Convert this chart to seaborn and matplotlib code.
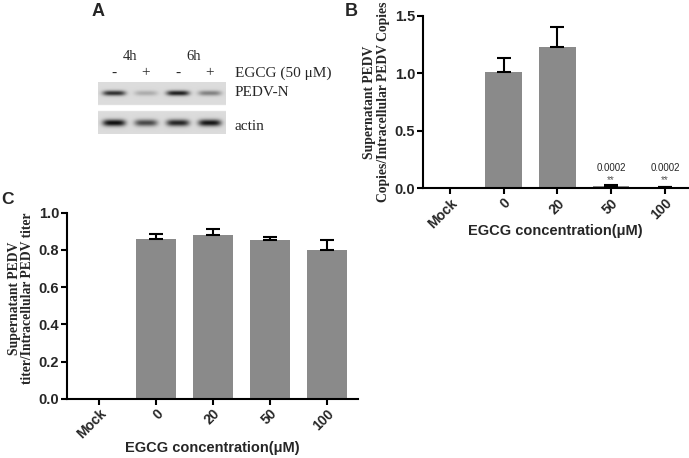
#%% Imports

import numpy as np
import matplotlib.pyplot as plt
import seaborn as sns

#%% Data

# panel A: western blot, relative band darkness per lane
blot_times = ['4h', '6h']
blot_egcg = ['-', '+', '-', '+']
pedv_n_band = [0.80, 0.22, 0.88, 0.42]
actin_band = [0.95, 0.68, 0.85, 0.92]

# panel B: supernatant / intracellular copies
conc = ['Mock', '0', '20', '50', '100']
copies_mean = [0.0, 1.01, 1.225, 0.02, 0.01]
copies_err = [0.0, 0.125, 0.175, 0.006, 0.004]
copies_p = ['', '', '', '0.0002', '0.0002']

# panel C: supernatant / intracellular titer
titer_mean = [0.0, 0.858, 0.879, 0.852, 0.80]
titer_err = [0.0, 0.027, 0.03, 0.016, 0.052]

#%% Style

sns.set_style('ticks')
plt.rcParams['font.family'] = ['Liberation Sans', 'DejaVu Sans']

bar_gray = '#8a8a8a'
serif = ['Liberation Serif', 'DejaVu Serif']

fig = plt.figure(figsize=(6.89, 4.58), dpi=100)

#%% Bar panel helper

def BarPanel(ax, means, errs, ylim, yticks, ylabel, xlim, width, label_xy,
             xpad):

    sns.barplot(x=conc, y=means, color=bar_gray, width=width,
                saturation=1, linewidth=0, ax=ax)
    pos = np.arange(len(conc))
    e = np.array(errs)
    m = e > 0
    ax.errorbar(pos[m], np.array(means)[m], yerr=[np.zeros(m.sum()), e[m]],
                fmt='none', ecolor='black', elinewidth=1.5, capsize=5,
                capthick=1.5, zorder=3)

    ax.set_ylim(*ylim)
    ax.set_xlim(*xlim)
    ax.set_yticks(yticks)
    ax.set_yticklabels(['{:.1f}'.format(t) for t in yticks],
                       fontweight='bold', fontsize=10.5)
    ax.set_xticks(pos)
    ax.set_xticklabels(conc, rotation=45, ha='right', rotation_mode='anchor',
                       fontweight='bold', fontsize=10)
    ax.tick_params(axis='both', length=4, width=1.5, color='black', pad=1.5)
    for s in ['top', 'right']:
        ax.spines[s].set_visible(False)
    for s in ['left', 'bottom']:
        ax.spines[s].set_linewidth(1.5)
        ax.spines[s].set_color('black')
    ax.set_xlabel('EGCG concentration(\u03bcM)', fontweight='bold',
                  fontsize=10.5, labelpad=xpad)
    ax.set_ylabel(ylabel, family=serif, fontweight='bold', fontsize=9.8,
                  linespacing=1.05)
    ax.yaxis.set_label_coords(*label_xy)

    return

#%% Panel B

axB = fig.add_axes([423 / 689, 0.589, 265 / 689, 0.377])
BarPanel(axB, copies_mean, copies_err, (0, 1.5), [0.0, 0.5, 1.0, 1.5],
         'Supernatant PEDV\nCopies/Intracellular PEDV Copies',
         (-0.50, 4.43), 0.68, (-0.125, 0.5), -5)
for i, p in enumerate(copies_p):
    if p:
        axB.text(i, 0.18, p, ha='center', va='center', fontsize=7)
        axB.text(i, 0.07, '**', ha='center', va='center', fontsize=7,
                 color='#555555')

#%% Panel C

axC = fig.add_axes([67 / 689, 0.129, 291 / 689, 0.407])
BarPanel(axC, titer_mean, titer_err, (0, 1.0), [0.0, 0.2, 0.4, 0.6, 0.8, 1.0],
         'Supernatant PEDV\ntiter/Intracellular PEDV titer',
         (-0.56, 4.54), 0.70, (-0.112, 0.54), 0)

#%% Panel A: blot

axA = fig.add_axes([98 / 689, 1 - 134 / 458, 128 / 689, 52 / 458])
nx, ny = 256, 104
xs = np.linspace(-0.5, 3.5, nx)
ys = np.linspace(0, 52, ny)
X, Y = np.meshgrid(xs, ys)
img = np.ones_like(X)
strip1 = (Y <= 23)
strip2 = (Y >= 29)
img[strip1 | strip2] = 0.86
for lane in range(4):
    bx = np.exp(-((X - lane) / 0.36) ** 4)
    img -= 0.85 * pedv_n_band[lane] * bx * np.exp(-((Y - 11) / 2.6) ** 2) * strip1
    img -= 0.85 * actin_band[lane] * bx * np.exp(-((Y - 41) / 3.4) ** 2) * strip2
img = np.clip(img, 0, 1)
axA.imshow(img, cmap='gray', vmin=0, vmax=1, aspect='auto',
           extent=[-0.5, 3.5, 52, 0], interpolation='bilinear')
axA.set_xlim(-0.5, 3.5)
axA.set_ylim(52, 0)
axA.axis('off')

for i, t in enumerate(blot_times):
    axA.text(2 * i + 0.5, -25, t, ha='center', va='center', family=serif,
             fontsize=10.5, clip_on=False)
for i, s in enumerate(blot_egcg):
    axA.text(i, -9, s, ha='center', va='center', family=serif,
             fontsize=11, clip_on=False)
axA.text(3.78, -9, 'EGCG (50 \u03bcM)', ha='left', va='center', family=serif,
         fontsize=11, clip_on=False)
axA.text(3.78, 11, 'PEDV-N', ha='left', va='center', family=serif,
         fontsize=11, clip_on=False)
axA.text(3.78, 44, 'actin', ha='left', va='center', family=serif,
         fontsize=11, clip_on=False)

#%% Panel letters

fig.text(98 / 689, 1 - 12 / 458, 'A', ha='center', va='center',
         fontweight='bold', fontsize=13)
fig.text(351 / 689, 1 - 12 / 458, 'B', ha='center', va='center',
         fontweight='bold', fontsize=13)
fig.text(8 / 689, 1 - 199 / 458, 'C', ha='center', va='center',
         fontweight='bold', fontsize=12.5)

fig.savefig('out.png', dpi=100)
